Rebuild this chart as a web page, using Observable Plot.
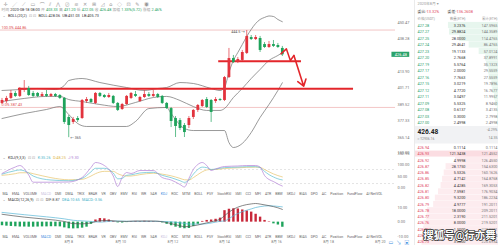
<!DOCTYPE html>
<html>
<head>
<meta charset="utf-8">
<script src="https://cdn.jsdelivr.net/npm/d3@7"></script>
<script src="https://cdn.jsdelivr.net/npm/@observablehq/plot@0.6"></script>
<style>
html,body{margin:0;padding:0;background:#fff;}
#root{position:relative;width:498px;height:245px;overflow:hidden;background:#fff;}
#root svg{position:absolute;overflow:visible;}
</style>
</head>
<body>
<div id="root"></div>
<script>
// ================= DATA =================
// 4h candles (index 0..63), prices in USDT
const opens  = [390.4,391.8,394.1,397.8,395.6,400.0,401.5,397.8,397.8,395.6,
                397.0,395.6,397.0,396.3,394.1,380.0,376.3,379.2,379.2,391.8,
                393.3,390.4,397.8,396.3,394.8,395.6,390.4,385.9,389.6,394.1,
                397.0,391.8,394.8,397.0,395.6,397.0,395.6,390.4,386.6,379.2,
                377.7,374.0,374.0,380.0,385.2,388.1,393.3,392.6,391.8,393.3,
                392.6,409.6,423.7,420.8,422.3,427.5,439.3,437.8,438.6,434.1,
                431.9,434.1,433.4,431.2];
const closes = [392.6,394.1,397.8,395.6,400.7,401.5,396.3,395.6,395.6,397.0,
                395.6,397.0,395.6,394.1,376.3,374.0,378.5,377.7,392.6,393.3,
                391.1,397.8,395.6,394.8,396.3,390.4,385.2,389.6,395.6,397.8,
                395.6,394.8,397.0,395.6,397.0,394.8,390.4,386.6,377.0,373.3,
                371.8,368.8,379.2,385.2,388.9,392.6,387.4,383.7,393.3,392.6,
                409.6,423.7,420.8,423.0,428.2,440.1,437.8,439.3,429.7,431.9,
                434.1,432.7,431.9,426.48];
const highs  = [394.1,395.6,400.0,399.3,402.2,407.4,403.0,399.3,398.5,398.5,
                400.0,397.8,397.8,397.0,394.8,381.5,380.0,380.7,393.3,394.8,
                394.1,398.5,398.5,397.0,397.8,396.3,391.1,390.4,396.3,398.5,
                399.3,395.6,400.0,398.5,400.0,397.8,396.3,391.1,387.4,380.7,
                379.2,375.5,380.7,385.9,389.6,393.3,394.8,393.3,394.8,394.1,
                410.4,431.2,426.0,424.5,429.7,444.5,440.8,440.8,440.1,435.6,
                436.4,437.1,434.9,432.7];
const lows   = [389.6,390.4,393.3,394.8,394.8,398.5,395.6,394.8,394.8,394.8,
                394.8,394.8,394.8,393.3,374.8,365.0,374.8,376.3,378.5,390.4,
                390.4,389.6,394.8,394.1,394.1,389.6,384.4,385.2,388.9,393.3,
                394.8,391.1,394.1,394.8,394.8,394.1,389.6,385.9,372.5,365.1,
                370.3,365.1,371.8,378.5,383.7,387.4,386.6,376.3,390.4,391.8,
                391.8,408.9,420.0,420.0,421.5,426.7,437.1,437.1,428.2,431.2,
                431.2,431.9,431.2,425.2];

// Bollinger bands (sampled at candle index)
const bollUpperIdx = [0,4,8,12,14,15,18,22,28,32,35,37,40,43,47,49,50,51,52,53,54,55,56,57,58,59,60,61,62,63];
const bollUpper    = [400.0,400.7,401.5,400.7,403.7,407.4,408.9,405.9,402.2,400.0,401.5,402.2,405.9,405.2,401.5,400.0,402.2,413.4,422.3,428.2,434.1,440.1,445.3,449.7,452.7,454.2,455.3,454.9,452.7,451.03];
const bollMidIdx   = [0,5,10,13,15,18,22,26,30,34,37,40,43,46,49,50,52,54,56,58,60,62,63];
const bollMid      = [391.8,394.1,395.6,395.6,393.3,391.8,389.6,388.1,391.1,394.8,395.6,392.6,388.1,385.2,385.2,386.6,394.8,401.5,408.9,415.6,422.3,426.0,428.06];
const bollLowIdx   = [0,5,10,13,15,17,19,28,30,33,37,38,41,43,50,51,52,54,56,58,60,62,63];
const bollLow      = [379.2,382.9,385.9,388.1,382.2,375.5,373.3,373.3,377.0,386.6,387.4,382.9,371.8,370.3,370.3,361.4,357.7,360.7,368.8,380.0,389.6,400.0,405.73];

// Fibonacci levels and hand-drawn lines
const fibLevels = [444.86, 387.43];
const fibLabels = ["100.0% 444.86", "0.0% 387.43"];
const levelPrices = [401.3, 421.7];
const levelFrom   = [3.7, 48.7];
const levelTo     = [79.0, 67.3];
const arrowIdx    = [62.7, 63.9, 64.8, 65.6];
const arrowPrice  = [427.2, 430.9, 422.3, 426.0];
const arrowEnd    = [67.8, 403.2];

const priceTicks = [450.47, 438.28, 413.90, 401.71, 389.52, 377.33, 365.14, 352.95];
const lastPrice = 426.48;

// KDJ (sampled)
const kdjIdx = [0,3,4,6,7,11,15,18,20,21,23,25,26,27,28,29,31,34,36,38,40,41,42,43,44,45,46,47,48,50,53,55,57,58,59,60,61,62,63];
const kVals = [60,75,78,65,52,35,32,42,70,85,85,65,40,42,55,57,65,68,55,45,32,25,35,60,80,90,88,80,82,88,90,92,92,88,72,58,48,40,35.26];
const dVals = [55,62,66,66,62,45,36,38,52,62,72,72,62,55,52,52,58,64,60,53,42,36,35,45,58,70,78,80,80,84,87,89,90,89,80,70,61,54,48.25];
const jVals = [62.8,90.6,97,56.4,25.6,25.6,26.5,45.7,88.5,109.8,97,52.1,7.3,45.7,67.1,62.8,75.6,75.6,45.7,35.0,15.8,5.1,41.5,79.9,101.3,109.8,97,75.6,82.1,92.7,94.9,97,97,90.6,54.3,37.2,28.6,17.9,9.3];

// MACD
const macdHist = [-2.5,-2.8,-3.0,-3.2,-3.4,-3.4,-3.5,-3.5,-3.4,-3.3,
                  -3.3,-3.2,-3.2,-3.3,-4.0,-4.6,-4.7,-4.6,-4.2,-3.5,
                  -1.5,1.5,2.5,2.3,1.5,0.5,-0.5,-0.6,-0.3,0.3,
                  0.5,0.4,0.6,0.5,0.4,0.2,-0.5,-1.5,-2.5,-3.5,
                  -4.2,-4.6,-4.4,-3.0,-1.5,0.5,1.2,1.5,2.0,2.8,
                  8.0,9.0,9.3,9.2,8.5,7.8,7.0,5.5,3.5,1.2,
                  0.3,-1.2,-2.0,-3.56];
const macdIdx = [0,5,10,14,16,18,20,22,24,26,28,30,34,36,38,40,41,42,44,46,48,49,50,51,52,54,56,57,58,60,62,63];
const difVals = [5.5,3.5,2.0,0.5,-1.0,-1.2,-0.5,1.0,1.2,0.6,0.5,0.8,0.8,0.3,-1.0,-2.5,-3.2,-3.0,-2.0,-0.5,1.0,2.0,4.5,7.0,9.0,11.5,12.7,13.0,12.6,11.5,10.0,8.87];
const deaVals = [6.8,5.2,3.7,2.3,1.3,0.9,0.5,0.0,0.5,0.8,0.6,0.6,0.6,0.5,0.2,-0.4,-0.9,-1.3,-1.4,-1.1,0.0,0.6,0.8,2.5,4.4,7.3,9.2,10.2,10.8,11.4,11.0,10.65];

const dateTicks  = [15, 26.7, 38.4, 50, 61.7, 73.4, 85];
const dateLabels = ["8月 8","8月 10","8月 12","8月 14","8月 16","8月 18","8月 20"];

// Order book
const askPrices = ["427.28","427.27","427.25","427.24","427.23","427.20","427.19","427.17","427.16","427.15","427.12","427.11","427.09","427.08","427.03","427.00"];
const askQty    = ["3.2376","29.8824","28.0000","29.4641","19.1133","2.7668","5.5764","2.0000","7.7663","3.0219","4.7720","3.0497","5.5325","0.6137","0.3000","2.4998"];
const askCum    = [147.5965,144.3589,114.4765,86.4765,57.0124,37.8991,35.1323,29.5559,27.5559,19.7896,16.7677,11.9957,8.9460,3.4135,2.7998,2.4998];
const bidPrices = ["426.94","426.93","426.92","426.87","426.86","426.85","426.82","426.81","426.80","426.79","426.78","426.77","426.76","426.75","426.74","426.73"];
const bidQty    = ["0.1114","121.3438","4.9998","28.1750","5.5326","4.7142","4.4285","7.5981","9.3200","4.9777","18.0000","2.3190","8.0000","1.5000","1.4133","3.2600"];
const bidCum    = [0.1114,121.4552,126.4550,154.6300,160.1626,164.8768,169.3053,176.9034,186.2234,191.2011,209.2011,211.5201,219.5201,221.0201,222.4334,225.6934];

const tabs = ["MA","EMA","VOLUME","MACD","DMI","DMA","TRIX","BRAR","VR","OBV","EMV","RSI","WR","SAR","KDJ","ROC","MTM","BOLL","PSY","StochRSI","SMI","CCI","MFI","ATR","BBW","SKDJ","BIAS","DPO","AC","Position","FundFlow","AI-NetVOL"];

// ================= RENDER =================
const FONT = "Roboto, 'Noto Sans CJK SC', 'DejaVu Sans', sans-serif";
const RED = "#e2333d", GREEN = "#1ea35b", LINE_RED = "#e3262b";
const root = document.getElementById("root");
function place(svg, left, top){ svg.style.position="absolute"; svg.style.left=left+"px"; svg.style.top=top+"px"; root.appendChild(svg); }
const xDomain = [-0.337, 88.43];
const X = {domain: xDomain, range: [0, 395], axis: null};
const style = {fontFamily: FONT, background: "transparent", overflow: "visible"};
const pts = (idx, vals) => idx.map((i, k) => ({i, v: vals[k]}));
const candles = opens.map((o, i) => ({i, o, c: closes[i], h: highs[i], l: lows[i], col: closes[i] >= o ? RED : GREEN}));
const iMax = d3.maxIndex(highs), iMin = d3.minIndex(lows);

// ---- main price pane ----
place(Plot.plot({
  width: 414, height: 160, marginLeft: 0, marginRight: 19, marginTop: 18, marginBottom: 2, style,
  x: X,
  y: {domain: [349.54, 453.42], range: [158, 18], axis: null},
  marks: [
    Plot.ruleY(fibLevels, {stroke: "#eba0a0", strokeWidth: 0.6}),
    Plot.line(pts(bollUpperIdx, bollUpper), {x: "i", y: "v", stroke: "#6e6e6e", strokeWidth: 0.7, curve: "monotone-x"}),
    Plot.line(pts(bollMidIdx, bollMid), {x: "i", y: "v", stroke: "#6e6e6e", strokeWidth: 0.7, curve: "monotone-x"}),
    Plot.line(pts(bollLowIdx, bollLow), {x: "i", y: "v", stroke: "#6e6e6e", strokeWidth: 0.7, curve: "monotone-x"}),
    Plot.ruleY(levelPrices.map((p, k) => ({p, a: levelFrom[k], b: levelTo[k]})), {y: "p", x1: "a", x2: "b", stroke: LINE_RED, strokeWidth: 2.2}),
    Plot.ruleX(candles, {x: "i", y1: "l", y2: "h", stroke: "col", strokeWidth: 0.7}),
    Plot.ruleX(candles, {x: "i", y1: "o", y2: "c", stroke: "col", strokeWidth: 2.8}),
    Plot.line(pts(arrowIdx, arrowPrice), {x: "i", y: "v", stroke: LINE_RED, strokeWidth: 1.5}),
    Plot.arrow([0], {x1: arrowIdx[arrowIdx.length-1], y1: arrowPrice[arrowPrice.length-1], x2: arrowEnd[0], y2: arrowEnd[1], stroke: LINE_RED, strokeWidth: 1.6, headLength: 7, headAngle: 70}),
    Plot.text(fibLevels, {y: d => d, frameAnchor: "left", dx: 1, dy: -2.6, text: (d, k) => fibLabels[k], fill: "#e05050", fontSize: 3.8, textAnchor: "start"}),
    Plot.text([iMax], {x: d => d, y: d => highs[d], text: d => `${highs[d]} →`, textAnchor: "end", dx: -2, dy: 1, fill: "#555", fontSize: 3.6}),
    Plot.text([iMin], {x: d => d, y: d => lows[d], text: d => `← ${Math.round(lows[d])}`, textAnchor: "start", dx: 1.5, dy: 0.5, fill: "#555", fontSize: 3.6}),
    Plot.axisY({anchor: "right", ticks: priceTicks, tickSize: 0, tickPadding: 2, tickFormat: d => d.toFixed(2), fontSize: 3.9, color: "#777", label: null}),
    Plot.rect([lastPrice], {x1: xDomain[1] - 0.8, x2: xDomain[1] + 3.2, y1: d => d - 1.9, y2: d => d + 1.9, fill: "#2aa36b"}),
    Plot.text([lastPrice], {x: xDomain[1] + 1.2, y: d => d, text: d => d.toFixed(2), fill: "white", fontSize: 3.9, textAnchor: "middle", lineAnchor: "middle"})
  ]
}), 0, 0);

// ---- KDJ pane ----
place(Plot.plot({
  width: 414, height: 47, marginLeft: 0, marginRight: 19, marginTop: 0, marginBottom: 0, style,
  x: X,
  y: {domain: [0, 150], range: [42.7, 7.6], axis: null},
  marks: [
    Plot.ruleY([20, 80], {stroke: "#c8c8c8", strokeWidth: 0.5, strokeDasharray: "2,2"}),
    Plot.line(pts(kdjIdx, dVals), {x: "i", y: "v", stroke: "#e6c46b", strokeWidth: 0.7, curve: "monotone-x"}),
    Plot.line(pts(kdjIdx, kVals), {x: "i", y: "v", stroke: "#5cbfd0", strokeWidth: 0.7, curve: "monotone-x"}),
    Plot.line(pts(kdjIdx, jVals), {x: "i", y: "v", stroke: "#b27fd6", strokeWidth: 0.7, curve: "monotone-x"}),
    Plot.axisY({anchor: "right", ticks: [0, 50, 100, 150], tickSize: 0, tickPadding: 2, tickFormat: d => d.toFixed(2), fontSize: 3.9, color: "#777", label: null})
  ]
}), 0, 145);

// ---- MACD pane ----
place(Plot.plot({
  width: 414, height: 50, marginLeft: 0, marginRight: 19, marginTop: 0, marginBottom: 8, style,
  x: {...X, axis: null},
  y: {domain: [-10, 10], range: [41, 12.3], axis: null},
  marks: [
    Plot.ruleX(macdHist.map((v, i) => ({i, v})), {x: "i", y1: 0, y2: "v", stroke: d => d.v >= 0 ? "#c8283a" : GREEN, strokeWidth: 2.4}),
    Plot.line(pts(macdIdx, deaVals), {x: "i", y: "v", stroke: "#58b6d6", strokeWidth: 0.7, curve: "monotone-x"}),
    Plot.line(pts(macdIdx, difVals), {x: "i", y: "v", stroke: "#555", strokeWidth: 0.7, curve: "monotone-x"}),
    Plot.axisY({anchor: "right", ticks: [-10, 0, 10], tickSize: 0, tickPadding: 2, tickFormat: d => d.toFixed(2), fontSize: 3.9, color: "#777", label: null}),
    Plot.axisX({anchor: "bottom", ticks: dateTicks, tickSize: 0, tickPadding: 2.5, tickFormat: (d, k) => dateLabels[dateTicks.indexOf(d)], fontSize: 3.6, color: "#777", label: null})
  ]
}), 0, 195);

// ---- order book ----
const askRows = askPrices.map((p, k) => ({p, q: askQty[k], cum: askCum[k], y: 25 + 6.49 * k}));
const bidRows = bidPrices.map((p, k) => ({p, q: bidQty[k], cum: bidCum[k], y: 147.3 + 6.29 * k}));
const obText = {fontSize: 3.8, lineAnchor: "middle"};
place(Plot.plot({
  width: 83, height: 245, margin: 0, style,
  x: {domain: [0, 230], range: [83, 5], axis: null},
  y: {domain: [0, 245], range: [0, 245], axis: null},
  marks: [
    Plot.rect(askRows, {x1: 0, x2: "cum", y1: d => d.y - 3.1, y2: d => d.y + 3.1, fill: "#e7f6ee"}),
    Plot.rect(bidRows, {x1: 0, x2: "cum", y1: d => d.y - 3.0, y2: d => d.y + 3.0, fill: "#fdecef"}),
    Plot.rect(bidRows.filter(d => +d.q > 100), {x1: -1, x2: 245, y1: d => d.y - 3.0, y2: d => d.y + 3.0, fill: "#fbdde2"}),
    Plot.rect([0], {x1: -1, x2: 245, y1: 126, y2: 143.5, fill: "#f1f2f4"}),
    Plot.text(["2020年8月 ▾"], {frameAnchor: "left", y: 3, dx: 2, fill: "#999", fontSize: 3.8, textAnchor: "start", lineAnchor: "middle"}),
    Plot.text(["委比"], {frameAnchor: "left", y: 11.5, dx: 2, fill: "#444", fontSize: 3.9, textAnchor: "start", lineAnchor: "middle"}),
    Plot.text(["-13.32%"], {frameAnchor: "left", y: 11.5, dx: 10, fill: "#e0485d", fontSize: 3.9, textAnchor: "start", lineAnchor: "middle"}),
    Plot.text(["委差"], {frameAnchor: "left", y: 11.5, dx: 32, fill: "#444", fontSize: 3.9, textAnchor: "start", lineAnchor: "middle"}),
    Plot.text(["-136.2608"], {frameAnchor: "left", y: 11.5, dx: 40, fill: "#e0485d", fontSize: 3.9, textAnchor: "start", lineAnchor: "middle"}),
    Plot.text(["价格(USDT)"], {frameAnchor: "left", y: 18.4, dx: 2, fill: "#999", fontSize: 3.4, textAnchor: "start", lineAnchor: "middle"}),
    Plot.text(["数量(ETH)"], {frameAnchor: "left", y: 18.4, dx: 50, fill: "#999", fontSize: 3.4, textAnchor: "end", lineAnchor: "middle"}),
    Plot.text(["累计(ETH)"], {frameAnchor: "right", y: 18.4, dx: -1, fill: "#999", fontSize: 3.4, textAnchor: "end", lineAnchor: "middle"}),
    Plot.text(askRows, {...obText, frameAnchor: "left", y: "y", text: "p", dx: 2, fill: "#2aa06a", textAnchor: "start"}),
    Plot.text(askRows, {...obText, frameAnchor: "left", y: "y", text: "q", dx: 50, fill: "#333", textAnchor: "end"}),
    Plot.text(askRows, {...obText, frameAnchor: "right", y: "y", text: d => d.cum.toFixed(4), dx: -1, fill: "#777", textAnchor: "end"}),
    Plot.text(bidRows, {...obText, frameAnchor: "left", y: "y", text: "p", dx: 2, fill: "#e0485d", textAnchor: "start"}),
    Plot.text(bidRows, {...obText, frameAnchor: "left", y: "y", text: "q", dx: 50, fill: "#333", textAnchor: "end"}),
    Plot.text(bidRows, {...obText, frameAnchor: "right", y: "y", text: d => d.cum.toFixed(4), dx: -1, fill: "#777", textAnchor: "end"}),
    Plot.text([lastPrice], {frameAnchor: "left", y: 131, dx: 2, text: d => d.toFixed(2), fill: "#222", fontSize: 6.6, fontWeight: "bold", textAnchor: "start", lineAnchor: "middle"}),
    Plot.text(["≈ ¥2936.16"], {frameAnchor: "left", y: 138.8, dx: 2, fill: "#888", fontSize: 3.4, textAnchor: "start", lineAnchor: "middle"}),
    Plot.text(["-4.29%"], {frameAnchor: "right", y: 129.5, dx: -1, fill: "#888", fontSize: 3.6, textAnchor: "end", lineAnchor: "middle"}),
    Plot.text(["14.35"], {frameAnchor: "right", y: 137.5, dx: -1, fill: "#888", fontSize: 3.6, textAnchor: "end", lineAnchor: "middle"})
  ]
}), 415, 0);

// ---- overlay texts (headers, tabs) ----
const ctx = document.createElement("canvas").getContext("2d");
function tw(t, s){ ctx.font = `${s}px Roboto, "Noto Sans CJK SC", "DejaVu Sans"`; return ctx.measureText(t).width; }
function seq(segs, x0, y, s, gap){ let x = x0; return segs.map(([t, c]) => { const d = {x, y, t, c}; x += tw(t, s) + gap; return d; }); }
const G = "#999";
const icons = ["✛","╱","⟋","▭","⌒","⫽","⋀","⊘","≋","✕","⊞","◿","⌂","◇","⊡","✎","◉"];
const toolRow = seq(icons.map(t => [t, "#999"]), 3, 3.5, 5, 4.6);
const infoRow = seq([["时间", G],["2020-08-18 08:00","#333"],["开",G],["403.33",GREEN],["高",G],["431.20",GREEN],["低",G],["422.05",GREEN],["收",G],["426.48",GREEN],["振幅",G],["1.33%(5.72)",GREEN],["涨幅",G],["2.46%",GREEN]], 1, 9.3, 3.8, 1.2);
const bollRow = seq([["⌄", G],["BOLL(20,2)","#333"],["⊡ ⊡",G],["BOLL:428.06","#333"],["UB:451.03","#333"],["LB:405.73","#333"]], 2, 15.2, 3.8, 2.2);
const kdjRow = seq([["⌄", G],["KDJ(9,3,3)","#333"],["⊡ ⊡",G],["K:35.26","#4fb8cc"],["D:48.25","#e0b850"],["J:9.30","#b27fd6"]], 2, 156.8, 3.8, 2.4);
const macdRow = seq([["⌄", G],["MACD(12,26,9)","#333"],["⊡ ⊡",G],["DIF:8.87","#555"],["DEA:10.65","#45b0c8"],["MACD:-3.56","#45b0c8"]], 2, 199.3, 3.8, 2.4);
const TS = 3.5;
const tabTotal = d3.sum(tabs, t => tw(t, TS));
const tabGap = (380 - tabTotal) / (tabs.length - 1);
const tabRow1 = seq(tabs.map(t => [t, t === "KDJ" ? "#3c8dde" : t === "MACD" ? "#c9c2dd" : "#666"]), 2, 193.6, TS, tabGap);
const tabRow2 = seq(tabs.map(t => [t, t === "MACD" ? "#3c8dde" : t === "KDJ" ? "#c9c2dd" : "#666"]), 2, 236.6, TS, tabGap);
const tOpt = s => ({x: "x", y: "y", text: "t", fill: "c", fontSize: s, textAnchor: "start", lineAnchor: "middle"});

place(Plot.plot({
  width: 498, height: 245, margin: 0, style,
  x: {domain: [0, 498], range: [0, 498], axis: null},
  y: {domain: [0, 245], range: [0, 245], axis: null},
  marks: [
    Plot.ruleX([414], {stroke: "#e6e6e6", strokeWidth: 0.8}),
    Plot.text(toolRow, tOpt(5)),
    Plot.text(infoRow, tOpt(3.8)),
    Plot.text(bollRow, tOpt(3.8)),
    Plot.text(kdjRow, tOpt(3.8)),
    Plot.text(macdRow, tOpt(3.8)),
    Plot.text(tabRow1, tOpt(TS)),
    Plot.text(tabRow2, tOpt(TS)),
    Plot.text(seq([["▭","#3c8dde"],["↘","#3c8dde"],["▣","#3c8dde"]], 388, 241.6, 5, 3), tOpt(5)),
    Plot.text(["搜狐号@行亦舞"], {x: 459, y: 235, fontSize: 10.5, fontWeight: "bold", fill: "white", stroke: "#333", strokeWidth: 1.6, paintOrder: "stroke", textAnchor: "middle", lineAnchor: "middle"})
  ]
}), 0, 0);
</script>
</body>
</html>
